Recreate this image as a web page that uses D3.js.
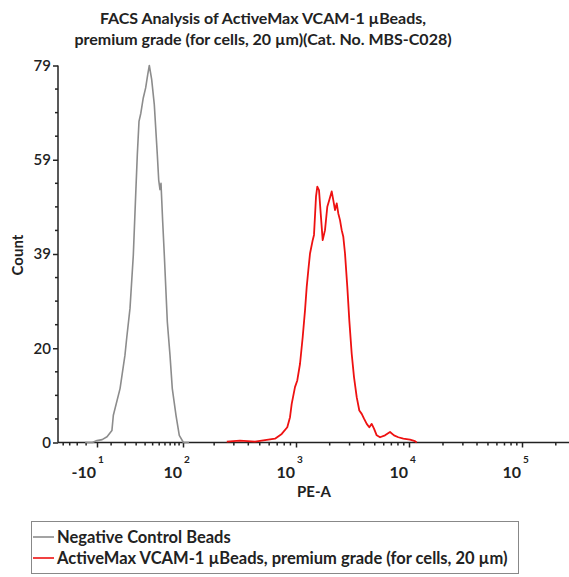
<!DOCTYPE html>
<html><head><meta charset="utf-8">
<script src="https://cdn.jsdelivr.net/npm/d3@7"></script>
<style>body{margin:0;background:#fff}svg{display:block}</style>
</head><body>
<svg id="c" width="569" height="577"></svg>
<script>
const titleLines = ["FACS Analysis of ActiveMax VCAM-1 \u00b5Beads,", "premium grade (for cells, 20 \u00b5m)(Cat. No. MBS-C028)"];
const seriesNames = ["Negative Control Beads", "ActiveMax VCAM-1 \u00b5Beads, premium grade (for cells, 20 \u00b5m)"];
const seriesColors = ["#8c8c8c", "#ee1111"];
const xLabel = "PE-A";
const yLabel = "Count";

// Negative control histogram (PE-A value, count)
const negPE    = [-21, -14, -10, -6, -2.6, 0.5, 1.4, 6.0, 9.8, 11.2, 14.1, 17.2, 19.8, 21.2, 23.0, 25.0, 27.8, 30.7, 33.3, 35.4, 38.6, 42.4, 47.0, 49.2, 51.3, 53.0, 55.9, 58.8, 64.4, 69.7, 74.5, 82.7, 90.5, 101, 115];
const negCount = [0, 0, 0.4, 0.6, 1.2, 2.5, 5.7, 11.3, 18.3, 21.8, 28.1, 39.3, 53.3, 60.3, 67.3, 69.0, 72.2, 74.3, 77.1, 79.0, 76.1, 70.8, 60.3, 55.0, 53.0, 54.3, 46.3, 39.3, 25.3, 18.3, 11.3, 5.7, 1.5, 0, 0];

// VCAM-1 beads histogram (PE-A value, count)
const posPE    = [260, 339, 456, 554, 671, 763, 848, 893, 922, 981, 1027, 1087, 1149, 1205, 1248, 1290, 1336, 1412, 1450, 1511, 1552, 1607, 1664, 1733, 1817, 1905, 1984, 2084, 2153, 2230, 2309, 2385, 2469, 2556, 2641, 2734, 2865, 2984, 3133, 3283, 3469, 3657, 3840, 4024, 4251, 4479, 4703, 4927, 5204, 5565, 6158, 6813, 7388, 8059, 8916, 10206, 11300, 11700];
const posCount = [0.2, 0.4, 0.2, 0.5, 0.8, 1.8, 3.2, 5.3, 8.1, 11.6, 13.0, 16.5, 22.1, 27.7, 32.6, 36.1, 39.6, 42.4, 43.5, 51.5, 53.6, 52.9, 48.0, 42.4, 44.5, 49.4, 50.8, 52.6, 50.8, 48.7, 50.1, 48.0, 46.6, 44.5, 43.1, 39.6, 32.6, 25.6, 18.6, 13.7, 9.5, 6.7, 6.0, 5.0, 3.9, 3.2, 3.9, 2.9, 1.5, 1.1, 1.5, 2.2, 1.5, 1.1, 0.8, 0.6, 0.3, 0];

const yTicks = [0, 19.75, 39.5, 59.25, 79];
const yTickLabels = ["0", "20", "39", "59", "79"];
const xMajorTicks = [-10, 100, 1000, 10000, 100000];
const xMajorBase = ["-10", "10", "10", "10", "10"];
const xMajorExp = ["1", "2", "3", "4", "5"];
const xMinorTicks = [-50, -40, -30, -20, 0, 10, 20, 30, 40, 50, 60, 70, 80, 90,
  200, 300, 400, 500, 600, 700, 800, 900,
  2000, 3000, 4000, 5000, 6000, 7000, 8000, 9000,
  20000, 30000, 40000, 50000, 60000, 70000, 80000, 90000, 200000];

const svg = d3.select("#c");
const FONT = "Lato, 'Open Sans', sans-serif";

const x = d3.scaleSymlog().constant(30)
  .domain([-59, -10, 100, 1000, 10000, 100000, 262143])
  .range([58, 97, 183, 296, 409, 522, 569]);
const y = d3.scaleLinear().domain([0, 79]).range([442.5, 65.5]);

// Title
svg.append("g").selectAll("text").data(titleLines).join("text")
  .attr("x", 263).attr("y", (d, i) => 24 + i * 21)
  .attr("text-anchor", "middle")
  .style("font-family", FONT).style("font-weight", "bold").style("font-size", "16px")
  .attr("fill", "#222").text(d => d);

// Y axis
const yMinor = [];
for (let i = 0; i < yTicks.length - 1; i++) for (let k = 1; k < 4; k++) yMinor.push(yTicks[i] + (yTicks[i + 1] - yTicks[i]) * k / 4);
const yAxis = svg.append("g").attr("transform", "translate(58,0)")
  .call(d3.axisLeft(y).tickValues(yTicks).tickFormat((d, i) => yTickLabels[i]).tickSize(5).tickPadding(2));
yAxis.append("g").selectAll("line").data(yMinor).join("line")
  .attr("x1", -3).attr("x2", 0).attr("y1", d => y(d)).attr("y2", d => y(d)).attr("stroke", "#222");
yAxis.select(".domain").attr("d", `M0,${y(79)}V${y(0)}`);
yAxis.selectAll("path,line").attr("stroke", "#222").attr("stroke-width", 1.5);
yAxis.selectAll("text").style("font-family", FONT).style("font-size", "15px").style("font-weight", "600").attr("fill", "#222");

// X axis
const xAxis = svg.append("g").attr("transform", `translate(0,${y(0)})`)
  .call(d3.axisBottom(x).tickValues(xMajorTicks).tickFormat("").tickSize(5));
xAxis.select(".domain").attr("d", `M58,0H569`);
xAxis.append("g").selectAll("line").data(xMinorTicks).join("line")
  .attr("x1", d => x(d)).attr("x2", d => x(d)).attr("y1", 0).attr("y2", 3).attr("stroke", "#222");
xAxis.selectAll("path,line").attr("stroke", "#222").attr("stroke-width", 1.5);
const lab = xAxis.append("g").selectAll("g").data(xMajorTicks).join("g")
  .attr("transform", d => `translate(${x(d)},0)`);
lab.append("text").attr("x", -1).attr("y", 35).attr("text-anchor", "end")
  .style("font-family", FONT).style("font-weight", "bold").style("font-size", "16px").attr("fill", "#222")
  .text((d, i) => xMajorBase[i]);
lab.append("text").attr("x", 1).attr("y", 20).attr("text-anchor", "start")
  .style("font-family", FONT).style("font-weight", "bold").style("font-size", "10px").attr("fill", "#222")
  .text((d, i) => xMajorExp[i]);

// axis titles
svg.append("text").attr("x", 314).attr("y", 497).attr("text-anchor", "middle")
  .style("font-family", FONT).style("font-weight", "bold").style("font-size", "15px").attr("fill", "#222").text(xLabel);
svg.append("text").attr("transform", "translate(23,255) rotate(-90)").attr("text-anchor", "middle")
  .style("font-family", FONT).style("font-weight", "bold").style("font-size", "15px").attr("fill", "#222").text(yLabel);

// Curves
const line = d3.line().x(d => x(d[0])).y(d => y(d[1])).curve(d3.curveLinear);
const negData = negPE.map((v, i) => [v, negCount[i]]);
const posData = posPE.map((v, i) => [v, posCount[i]]);
svg.append("path").datum(negData).attr("d", line).attr("fill", "none").attr("stroke", seriesColors[0]).attr("stroke-width", 1.6).attr("stroke-linejoin", "round");
svg.append("path").datum(posData).attr("d", line).attr("fill", "none").attr("stroke", seriesColors[1]).attr("stroke-width", 1.8).attr("stroke-linejoin", "round");

// Legend
const lg = svg.append("g");
lg.append("rect").attr("x", 31.5).attr("y", 521.5).attr("width", 487).attr("height", 52)
  .attr("fill", "#fff").attr("stroke", "#888").attr("stroke-width", 1);
const li = lg.selectAll("g.it").data(seriesNames).join("g").attr("class", "it")
  .attr("transform", (d, i) => `translate(0,${537 + i * 21})`);
li.append("line").attr("x1", 33).attr("x2", 54).attr("y1", 0).attr("y2", 0)
  .attr("stroke", (d, i) => seriesColors[i]).attr("stroke-width", 1.6);
li.append("text").attr("x", 57).attr("y", 5.5).style("font-family", FONT).style("font-weight", "bold")
  .style("font-size", "16.5px").attr("fill", "#222").text(d => d);
</script>
</body></html>
